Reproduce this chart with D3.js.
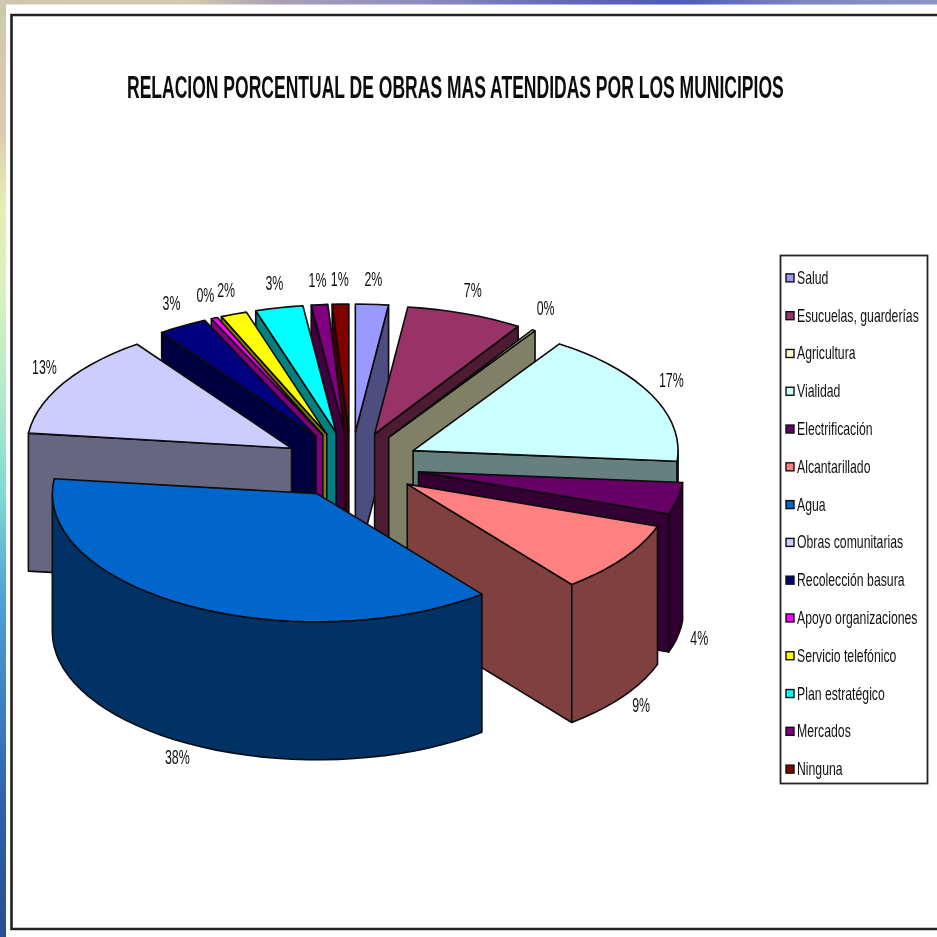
<!DOCTYPE html>
<html><head><meta charset="utf-8">
<style>html,body{margin:0;padding:0;background:#fff;overflow:hidden}svg{display:block}</style>
<script src="https://cdn.jsdelivr.net/npm/d3@7/dist/d3.min.js"></script>
</head><body><div id="c"></div>
<script>
const chartTitle = "RELACION PORCENTUAL DE OBRAS MAS ATENDIDAS POR LOS MUNICIPIOS";
const categories = ["Salud","Esucuelas, guarderías","Agricultura","Vialidad","Electrificación","Alcantarillado","Agua","Obras comunitarias","Recolección basura","Apoyo organizaciones","Servicio telefónico","Plan estratégico","Mercados","Ninguna"];
const values = [2.0,7.1,0.2,17.0,4.0,9.0,37.5,13.2,3.0,0.4,1.6,2.9,1.0,1.0];
const colors = ["#9999FF","#993366","#FFFFCC","#CCFFFF","#660066","#FF8080","#0066CC","#CCCCFF","#000080","#FF00FF","#FFFF00","#00FFFF","#800080","#800000"];

const W = 937, H = 937;
const svg = d3.select("#c").append("svg").attr("width",W).attr("height",H);
const defs = svg.append("defs");

// Slide background edges
const leftGrad = defs.append("linearGradient").attr("id","lg").attr("x1",0).attr("x2",0).attr("y1",0).attr("y2",1);
[[0,"#cfc6b0"],[.14,"#dccbb0"],[.22,"#e6eeb4"],[.32,"#d8f0c0"],[.43,"#b0e8cc"],[.53,"#80d8d0"],[.64,"#50a0d0"],[.75,"#4080c0"],[.86,"#3060a8"],[1,"#2a4f90"]]
  .forEach(s=>leftGrad.append("stop").attr("offset",s[0]).attr("stop-color",s[1]));
const topGrad = defs.append("linearGradient").attr("id","tg");
[[0,"#cfc6b0"],[.2,"#d2cbb0"],[.3,"#a8a0b4"],[.45,"#8c8cc0"],[.6,"#6468b8"],[.72,"#4e58b8"],[.85,"#7a84c0"],[1,"#8c94c4"]]
  .forEach(s=>topGrad.append("stop").attr("offset",s[0]).attr("stop-color",s[1]));
svg.append("rect").attr("width",6).attr("height",H).attr("fill","url(#lg)");
svg.append("rect").attr("width",W).attr("height",4.5).attr("fill","url(#tg)");

defs.append("filter").attr("id","soft").attr("x","-5%").attr("y","-5%").attr("width","110%").attr("height","110%")
  .append("feGaussianBlur").attr("stdDeviation",0.45);

const g = svg.append("g").attr("filter","url(#soft)");

// Frame: open on the right, as in the reference
g.append("path").attr("d",d3.line()([[W+4,15],[11.5,15],[11.5,929],[W+4,929]]))
  .attr("fill","none").attr("stroke","#222").attr("stroke-width",2.6);

const titleText = g.append("text").attr("font-family","'Liberation Sans',Arial,sans-serif").attr("font-weight","bold").attr("font-size",31).attr("fill","#111").text(chartTitle);
titleText.attr("transform",`translate(127,98) scale(${657/titleText.node().getComputedTextLength()},1)`);

// Pie geometry
const cx=351, cy=465, rx=265, ry=128, depth=138, explodeX=69, explodeY=33;
const pie = d3.pie().sort(null).value(d=>d)(values);
const slices = pie.map((p,i)=>{
  const mid=(p.startAngle+p.endAngle)/2;
  return {i,a:p.startAngle,b:p.endAngle,mid,
    ax:cx+explodeX*Math.sin(mid), ay:cy-explodeY*Math.cos(mid)};
});
const line = d3.line();
const rim=(s,t)=>[s.ax+rx*Math.sin(t), s.ay-ry*Math.cos(t)];
const arcPts=(s,a,b)=>{
  const n=Math.max(2,Math.ceil((b-a)/0.06));
  return d3.range(n+1).map(k=>rim(s,a+(b-a)*k/n));
};
const drop=pts=>pts.map(p=>[p[0],p[1]+depth]);
const order=slices.slice().sort((u,v)=>Math.cos(v.mid)-Math.cos(u.mid));
const pieG=g.append("g").attr("stroke","#0a0a0a").attr("stroke-width",1.6).attr("stroke-linejoin","round");
const PI=Math.PI;
order.forEach(s=>{
  const side=d3.rgb(colors[s.i]); const dark=d3.rgb(side.r*.5,side.g*.5,side.b*.5).formatHex();
  const sg=pieG.append("g");
  const apex=[s.ax,s.ay];
  if(Math.sin(s.a)<0){
    const q=[apex,rim(s,s.a)]; sg.append("path").attr("fill",dark).attr("d",line(q.concat(drop(q).reverse()))+"Z");
  }
  if(Math.sin(s.b)>0){
    const q=[apex,rim(s,s.b)]; sg.append("path").attr("fill",dark).attr("d",line(q.concat(drop(q).reverse()))+"Z");
  }
  const wa=Math.max(s.a,PI/2), wb=Math.min(s.b,3*PI/2);
  if(wb>wa){
    const q=arcPts(s,wa,wb); sg.append("path").attr("fill",dark).attr("d",line(q.concat(drop(q).reverse()))+"Z");
  }
  sg.append("path").attr("fill",colors[s.i]).attr("d",line([apex].concat(arcPts(s,s.a,s.b)))+"Z");
});

// Percentage labels
const labelPadX=22, labelPadY=18;
const fontLabel="'Liberation Sans',Arial,sans-serif";
slices.forEach(s=>{
  const front=Math.cos(s.mid)<0;
  const x=s.ax+(rx+labelPadX)*Math.sin(s.mid);
  const y=s.ay-(ry+labelPadY)*Math.cos(s.mid)+(front?depth-2:-7);
  g.append("text").attr("transform",`translate(${x},${y+7}) scale(0.62,1)`)
    .attr("text-anchor","middle").attr("font-family",fontLabel).attr("font-size",20).attr("fill","#111")
    .text(d3.format(".0f")(values[s.i])+"%");
});

// Legend
const lx=780.5, ly=255.5, lw=147, lh=528;
g.append("rect").attr("x",lx).attr("y",ly).attr("width",lw).attr("height",lh).attr("fill","#fff").attr("stroke","#222").attr("stroke-width",1.8);
const rowY=d3.scaleBand().domain(categories).range([259,788]);
const rows=g.selectAll("g.row").data(categories).join("g").attr("class","row")
  .attr("transform",d=>`translate(0,${rowY(d)+rowY.bandwidth()/2})`);
rows.append("rect").attr("x",786).attr("y",-4).attr("width",8).attr("height",8)
  .attr("fill",(d,i)=>colors[i]).attr("stroke","#111").attr("stroke-width",1.4);
rows.append("text").attr("transform","translate(797,6) scale(0.70,1)")
  .attr("font-family",fontLabel).attr("font-size",17.5).attr("fill","#111").text(d=>d);
</script></body></html>
